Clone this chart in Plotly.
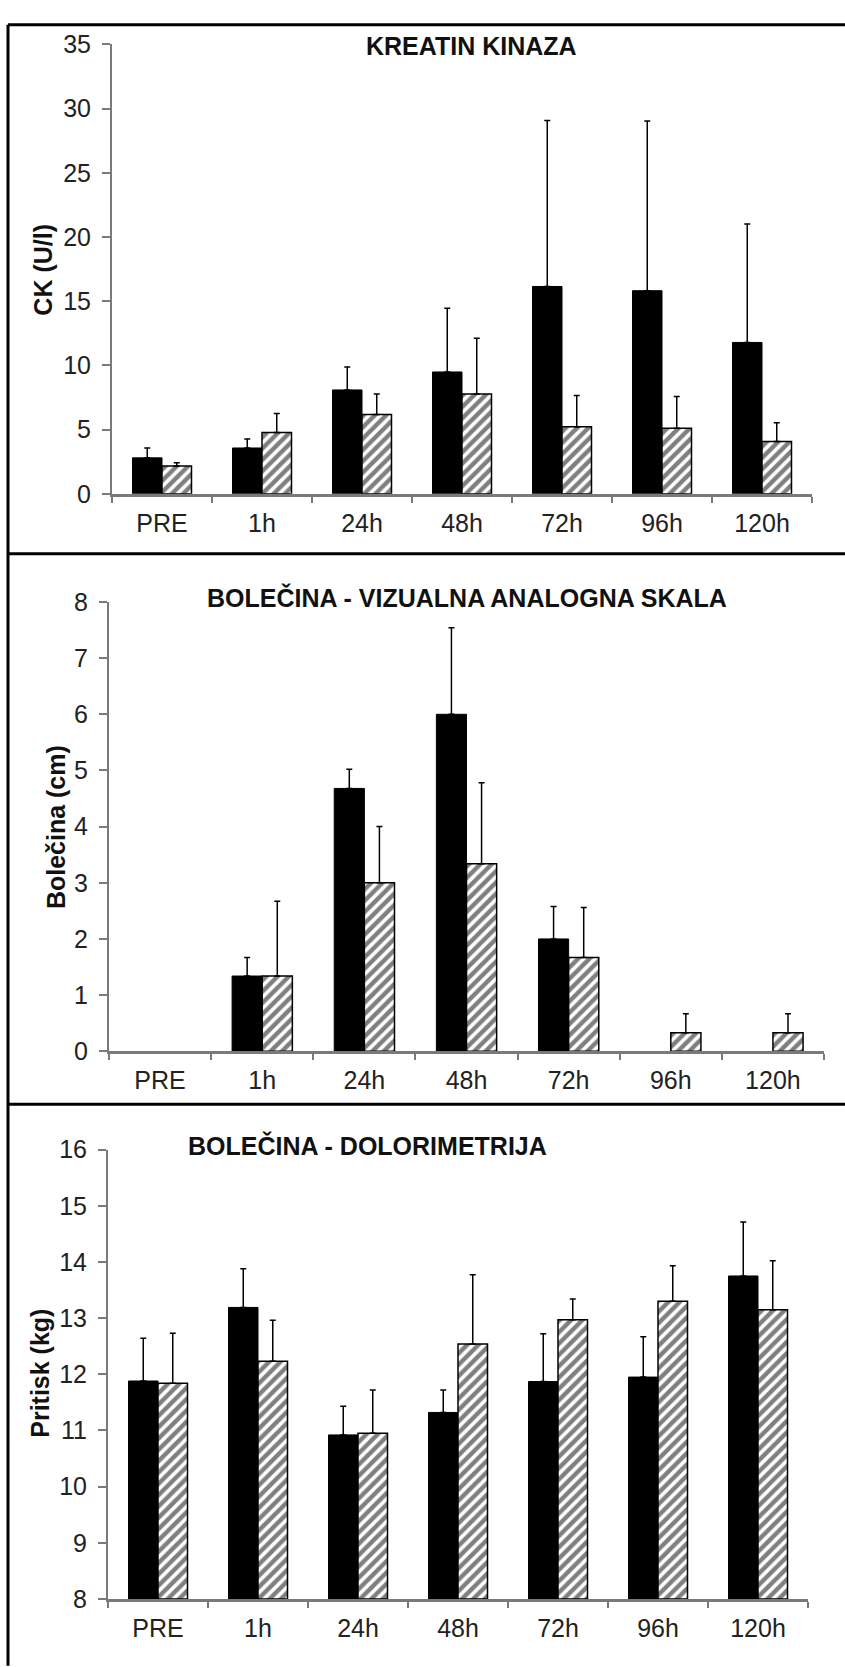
import plotly.graph_objects as go

W, H = 845, 1667

categories = ["PRE", "1h", "24h", "48h", "72h", "96h", "120h"]

# Panel 1: KREATIN KINAZA
ck_black = [2.8, 3.57, 8.09, 9.49, 16.15, 15.82, 11.79]
ck_black_err = [0.77, 0.69, 1.78, 4.97, 12.93, 13.21, 9.23]
ck_hatch = [2.17, 4.77, 6.17, 7.78, 5.23, 5.1, 4.08]
ck_hatch_err = [0.25, 1.48, 1.61, 4.34, 2.42, 2.48, 1.46]

# Panel 2: VAS
vas_black = [0, 1.34, 4.68, 6.0, 2.0, 0, 0]
vas_black_err = [0, 0.33, 0.34, 1.54, 0.58, 0, 0]
vas_hatch = [0, 1.34, 3.0, 3.34, 1.67, 0.33, 0.33]
vas_hatch_err = [0, 1.33, 1.0, 1.44, 0.89, 0.34, 0.34]

# Panel 3: Dolorimetrija
dol_black = [11.88, 13.19, 10.92, 11.32, 11.87, 11.95, 13.75]
dol_black_err = [0.76, 0.69, 0.51, 0.40, 0.85, 0.72, 0.96]
dol_hatch = [11.84, 12.23, 10.95, 12.54, 12.97, 13.30, 13.15]
dol_hatch_err = [0.89, 0.73, 0.77, 1.23, 0.37, 0.63, 0.87]

titles = ["KREATIN KINAZA", "BOLEČINA - VIZUALNA ANALOGNA SKALA", "BOLEČINA - DOLORIMETRIJA"]
ytitles = ["CK (U/l)", "Bolečina (cm)", "Pritisk (kg)"]

FONT = "Liberation Sans, Arial, sans-serif"

def px_x(x):
    return x / W

def px_y(y):
    return 1 - y / H

# panel geometry in pixels: x0, x1, ytop, ybottom
panels = [
    dict(x0=112, x1=812, yt=31, yb=488, rng=[0, 35], dtick=5,
         title_xy=(471, 33), ytitle_xy=(43, 260)),
    dict(x0=109, x1=824, yt=598, yb=1055, rng=[0, 8], dtick=1,
         title_xy=(467, 593), ytitle_xy=(56, 827)),
    dict(x0=108, x1=808, yt=1155, yb=1612, rng=[8, 16], dtick=1,
         title_xy=(367, 1151), ytitle_xy=(40, 1383)),
]

data = [
    (ck_black, ck_black_err, ck_hatch, ck_hatch_err),
    (vas_black, vas_black_err, vas_hatch, vas_hatch_err),
    (dol_black, dol_black_err, dol_hatch, dol_hatch_err),
]

def plot_vals(vals, base):
    # zero-height bars are not drawn at all (no outline, no error cap)
    out = []
    for v in vals:
        if v == 0:
            out.append(None)
        else:
            out.append(v - base if base else v)
    return out

fig = go.Figure()
layout = dict(
    width=W, height=H,
    margin=dict(l=0, r=0, t=0, b=0),
    paper_bgcolor="white", plot_bgcolor="white",
    showlegend=False, barmode="group", bargap=0.41, bargroupgap=0,
    font=dict(family=FONT, color="#222222"),
)
annotations = []
shapes = []

for i, (p, d) in enumerate(zip(panels, data)):
    n = "" if i == 0 else str(i + 1)
    xa, ya = "x" + n, "y" + n
    base = p["rng"][0] if p["rng"][0] != 0 else None
    bvals, berr, hvals, herr = d
    fig.add_trace(go.Bar(
        x=categories, y=plot_vals(bvals, base),
        base=base, xaxis=xa, yaxis=ya,
        marker=dict(color="black", line=dict(color="black", width=1)),
        error_y=dict(type="data", array=berr, arrayminus=[0] * 7,
                     symmetric=False, color="black", thickness=1.5, width=3),
    ))
    fig.add_trace(go.Bar(
        x=categories, y=plot_vals(hvals, base),
        base=base, xaxis=xa, yaxis=ya,
        marker=dict(color="white", line=dict(color="black", width=1.5),
                    pattern=dict(shape="/", fgcolor="black", bgcolor="white",
                                 size=8, solidity=0.55)),
        error_y=dict(type="data", array=herr, arrayminus=[0] * 7,
                     symmetric=False, color="black", thickness=1.5, width=3),
    ))
    axis_color = "#7a7a7a"
    layout["xaxis" + n] = dict(
        domain=[px_x(p["x0"]), px_x(p["x1"])], anchor=ya,
        showline=True, linecolor=axis_color, linewidth=2.5,
        ticks="outside", tickson="boundaries", ticklen=6, tickwidth=1.5,
        tickcolor=axis_color, showgrid=False, zeroline=False,
        tickfont=dict(size=25, family=FONT, color="#222222"),
        ticklabelstandoff=5, fixedrange=True,
    )
    layout["yaxis" + n] = dict(
        domain=[px_y(p["yb"]), px_y(p["yt"])], anchor=xa,
        range=p["rng"], dtick=p["dtick"], tick0=0,
        showline=True, linecolor=axis_color, linewidth=2,
        ticks="outside", ticklen=8, tickwidth=1.5, tickcolor=axis_color,
        showgrid=False, zeroline=False,
        tickfont=dict(size=25, family=FONT, color="#222222"),
        ticklabelstandoff=6, fixedrange=True,
    )
    tx, ty = p["title_xy"]
    annotations.append(dict(
        text="<b>%s</b>" % titles[i], x=px_x(tx), y=px_y(ty),
        xref="paper", yref="paper", xanchor="center", yanchor="middle",
        showarrow=False, font=dict(size=25, family=FONT, color="#111111"),
    ))
    yx, yy = p["ytitle_xy"]
    annotations.append(dict(
        text="<b>%s</b>" % ytitles[i], x=px_x(yx), y=px_y(yy),
        xref="paper", yref="paper", xanchor="center", yanchor="middle",
        textangle=-90, showarrow=False,
        font=dict(size=25, family=FONT, color="#111111"),
    ))

# frame lines
frame = dict(color="black", width=3)
shapes.append(dict(type="line", xref="paper", yref="paper",
                   x0=px_x(8), x1=px_x(8), y0=px_y(11), y1=px_y(1680), line=frame))
for yy in (11, 549, 1109):
    shapes.append(dict(type="line", xref="paper", yref="paper",
                       x0=px_x(8), x1=px_x(860), y0=px_y(yy), y1=px_y(yy), line=frame))

layout["annotations"] = annotations
layout["shapes"] = shapes
fig.update_layout(**layout)
fig.write_html("out.html")
